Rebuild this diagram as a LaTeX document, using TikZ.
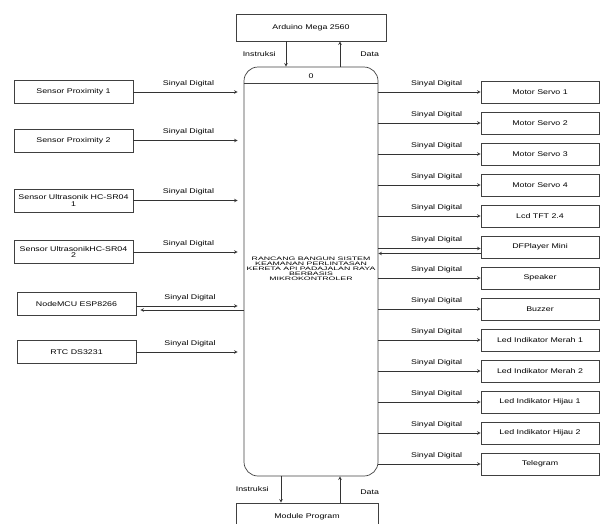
\documentclass[tikz,border=0pt]{standalone}
\usepackage{fontspec}
\setmainfont{Liberation Sans}[FakeStretch=1.3]
\newfontfamily\titlefont{Liberation Sans}[FakeStretch=1.75]
\usepackage{xcolor}
\usepackage{tikz}
\usetikzlibrary{shapes.geometric, arrows}
\tikzstyle{entity} = [rectangle, minimum width=119pt, minimum height=23pt, text centered, align=center, inner sep=1pt, draw=black!75, line width=0.7pt, font=\fontsize{6.8}{6.5}\selectfont]
\tikzstyle{outbox} = [entity, minimum width=118pt, minimum height=22pt]
\tikzstyle{process} = [rectangle, rounded corners=14pt, minimum width=134pt, minimum height=409pt, draw=black!75, line width=0.7pt]
\tikzstyle{arrow} = [line width=0.6pt, draw=black!80, ->, >=stealth]
\tikzstyle{lbl} = [inner sep=1pt, font=\fontsize{6.8}{8}\selectfont]

\begin{document}
\begin{tikzpicture}[x=1pt, y=-1pt, node distance=31pt]
   \useasboundingbox (0,0) rectangle (601,523);
   % proses utama
   \node (p) [process] at (311,271.5) {};
   \draw [line width=0.7pt, black!75] ([yshift=-17pt]p.north west) -- ([yshift=-17pt]p.north east);
   \node (nol) [lbl] at (311,76) {0};
   \node (judul) [font=\titlefont\fontsize{5}{5}\selectfont, align=center] at (311,269) {RANCANG BANGUN SISTEM\\KEAMANAN PERLINTASAN\\KERETA API PADAJALAN RAYA\\BERBASIS\\MIKROKONTROLER};
   \node (ard) [entity, minimum width=150pt, minimum height=27pt] at (311,27.5) {Arduino Mega 2560};
   \node (mod) [entity, minimum width=142pt, minimum height=27pt] at (307,516.5) {Module Program};
   % input
   \node (s1) [entity] at (73.5,92) {Sensor Proximity 1};
   \node (s2) [entity, node distance=48.5pt, below of=s1] {Sensor Proximity 2};
   \node (s3) [entity, node distance=60pt, below of=s2] {Sensor Ultrasonik HC-SR04\\1};
   \node (s4) [entity, node distance=51.5pt, below of=s3] {Sensor UltrasonikHC-SR04\\2};
   \node (s5) [entity, node distance=52pt, below of=s4, xshift=3pt] {NodeMCU ESP8266};
   \node (s6) [entity, node distance=48pt, below of=s5] {RTC DS3231};
   % output
   \node (m1) [outbox] at (540,92) {Motor Servo 1};
   \node (m2) [outbox, below of=m1] {Motor Servo 2};
   \node (m3) [outbox, below of=m2] {Motor Servo 3};
   \node (m4) [outbox, below of=m3] {Motor Servo 4};
   \node (m5) [outbox, below of=m4] {Lcd TFT 2.4};
   \node (m6) [outbox, below of=m5] {DFPlayer Mini};
   \node (m7) [outbox, below of=m6] {Speaker};
   \node (m8) [outbox, below of=m7] {Buzzer};
   \node (m9) [outbox, below of=m8] {Led Indikator Merah 1};
   \node (m10) [outbox, below of=m9] {Led Indikator Merah 2};
   \node (m11) [outbox, below of=m10] {Led Indikator Hijau 1};
   \node (m12) [outbox, below of=m11] {Led Indikator Hijau 2};
   \node (m13) [outbox, below of=m12] {Telegram};
   % atas dan bawah
   \draw [arrow] ([xshift=-25pt]ard.south) -- node[lbl, left=9pt] {Instruksi} ([xshift=-25pt]ard.south |- p.north);
   \draw [arrow] ([xshift=29pt]ard.south |- p.north) -- node[lbl, right=19pt] {Data} ([xshift=29pt]ard.south);
   \draw [arrow] ([xshift=-26pt]mod.north |- p.south) -- node[lbl, left=11pt] {Instruksi} ([xshift=-26pt]mod.north);
   \draw [arrow] ([xshift=33pt]mod.north) -- node[lbl, right=19pt, pos=0.4] {Data} ([xshift=33pt]mod.north |- p.south);
   % panah input
   \draw [arrow, shorten >=6pt] (s1.east) -- node[lbl, above=4pt] {Sinyal Digital} (s1.east -| p.west);
   \draw [arrow, shorten >=6pt] (s2.east) -- node[lbl, above=4pt] {Sinyal Digital} (s2.east -| p.west);
   \draw [arrow, shorten >=6pt] (s3.east) -- node[lbl, above=4pt] {Sinyal Digital} (s3.east -| p.west);
   \draw [arrow, shorten >=6pt] (s4.east) -- node[lbl, above=4pt] {Sinyal Digital} (s4.east -| p.west);
   \draw [arrow, shorten >=6pt] ([yshift=-2pt]s5.east) -- node[lbl, above=4pt] {Sinyal Digital} ([yshift=-2pt]s5.east -| p.west);
   \draw [arrow, shorten >=4pt] ([yshift=-6pt]s5.east -| p.west) -- ([yshift=-6pt]s5.east);
   \draw [arrow, shorten >=6pt] (s6.east) -- node[lbl, above=4pt] {Sinyal Digital} (s6.east -| p.west);
   % panah output
   \draw [arrow] (m1.west -| p.east) -- node[lbl, above=4pt, pos=0.57] {Sinyal Digital} (m1.west);
   \draw [arrow] (m2.west -| p.east) -- node[lbl, above=4pt, pos=0.57] {Sinyal Digital} (m2.west);
   \draw [arrow] (m3.west -| p.east) -- node[lbl, above=4pt, pos=0.57] {Sinyal Digital} (m3.west);
   \draw [arrow] (m4.west -| p.east) -- node[lbl, above=4pt, pos=0.57] {Sinyal Digital} (m4.west);
   \draw [arrow] (m5.west -| p.east) -- node[lbl, above=4pt, pos=0.57] {Sinyal Digital} (m5.west);
   \draw [arrow] ([yshift=-1.5pt]m6.west -| p.east) -- node[lbl, above=4pt, pos=0.57] {Sinyal Digital} ([yshift=-1.5pt]m6.west);
   \draw [arrow] ([yshift=-6.5pt]m6.west) -- ([yshift=-6.5pt]m6.west -| p.east);
   \draw [arrow] (m7.west -| p.east) -- node[lbl, above=4pt, pos=0.57] {Sinyal Digital} (m7.west);
   \draw [arrow] (m8.west -| p.east) -- node[lbl, above=4pt, pos=0.57] {Sinyal Digital} (m8.west);
   \draw [arrow] (m9.west -| p.east) -- node[lbl, above=4pt, pos=0.57] {Sinyal Digital} (m9.west);
   \draw [arrow] (m10.west -| p.east) -- node[lbl, above=4pt, pos=0.57] {Sinyal Digital} (m10.west);
   \draw [arrow] (m11.west -| p.east) -- node[lbl, above=4pt, pos=0.57] {Sinyal Digital} (m11.west);
   \draw [arrow] (m12.west -| p.east) -- node[lbl, above=4pt, pos=0.57] {Sinyal Digital} (m12.west);
   \draw [arrow] (m13.west -| p.east) -- node[lbl, above=4pt, pos=0.57] {Sinyal Digital} (m13.west);
\end{tikzpicture}
\end{document}
